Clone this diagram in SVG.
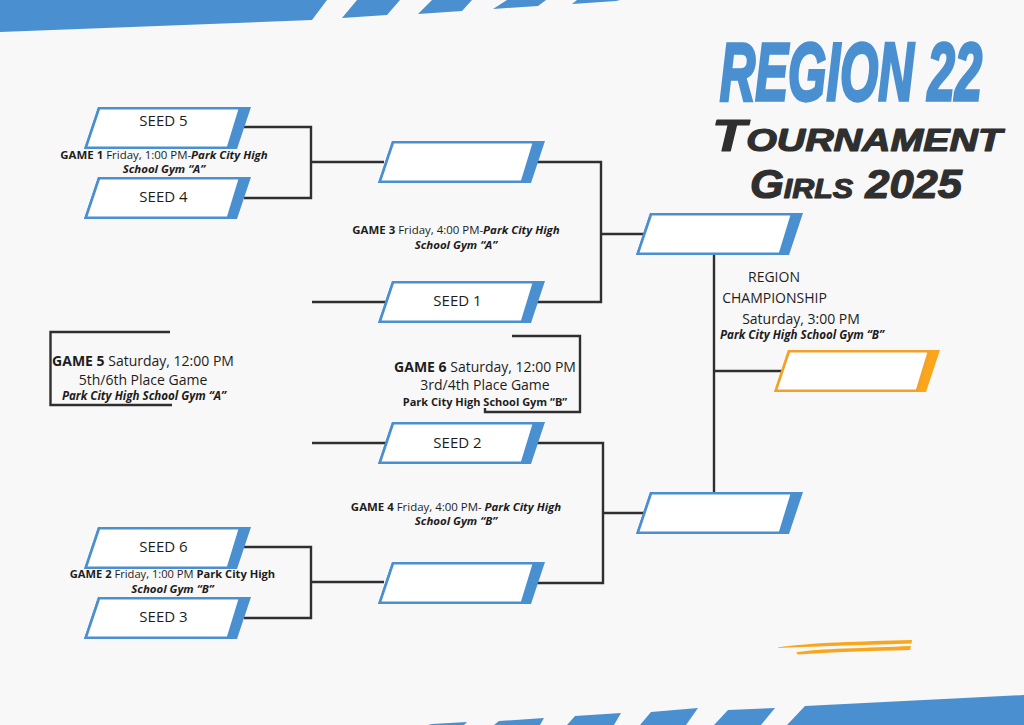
<svg xmlns="http://www.w3.org/2000/svg" xmlns:xlink="http://www.w3.org/1999/xlink" width="1024" height="725" viewBox="0 0 1024 725">
<style>
.b{fill:#4a90d0}
.o{fill:#f9a61d}
.w{fill:#fff;stroke-width:2.6}
.ws{stroke:#4a90d0}
.wo{stroke:#f2a22a}
.c{fill:none;stroke:#2f2f2f;stroke-width:2.4}
text{font-family:"Open Sans","Noto Sans","Liberation Sans",sans-serif;fill:#1d1d1d;text-anchor:middle}
.s{font-size:15px}
.g{font-size:11.450px}
.g .k{font-weight:700}
.g .p,.pl{font-weight:700;font-style:italic}
.l{font-size:14px}
.k{font-weight:700}
.pl{font-size:11.600px}
.h{font-family:"Liberation Sans",sans-serif;font-weight:700;font-style:italic;font-variant:small-caps;fill:#2f2f2f;stroke:#2f2f2f;stroke-width:1.2;stroke-linejoin:round}
</style>
<defs>
<g id="box"><polygon class="b" points="98,0 167,0 153,42 0,42 14,0"/><polygon class="w ws" points="15,1.3 156,1.3 144,40.7 1.8,40.7"/></g>
<g id="boxo"><polygon class="o" points="98,0 166,0 152,42 0,42 14,0"/><polygon class="w wo" points="15,1.3 155,1.3 143,40.7 1.8,40.7"/></g>
</defs>
<rect width="1024" height="725" fill="#f8f8f8"/>
<g id="decor">
<polygon class="b" points="0,0 327,0 312,20 0,32"/>
<polygon class="b" points="357,0 400,0 387,15 342,18"/>
<polygon class="b" points="432,0 472,0 462,11 418,14"/>
<polygon class="b" points="507,0 546,0 538,6 493,9"/>
<polygon class="b" points="577,0 620,0 616,1 572,4"/>
<polygon class="b" points="428,725 432,724 467,722 464,725"/>
<polygon class="b" points="494,725 499,721 544,718 540,725"/>
<polygon class="b" points="567,725 575,716 621,713 614,725"/>
<polygon class="b" points="640,725 651,712 698,708 686,725"/>
<polygon class="b" points="714,725 728,710 775,708 761,725"/>
<polygon class="b" points="787,725 805,706 1024,695 1024,725"/>
<path class="o" d="M778,647.500 C810,642.500 860,641.500 912,640 L911.500,643.500 C870,645 825,646 778,648 Z"/>
<path class="o" d="M796,652.500 C815,648.500 870,648 911,646 L910,650 C870,651 830,652 798,654.500 Z"/>
</g>
<g id="connectors">
<path class="c" d="M244,127H311V198H244M311,162H384"/>
<path class="c" d="M535,162H601V302H535M601,234H644"/>
<path class="c" d="M312,302H386"/>
<path class="c" d="M312,443H386"/>
<path class="c" d="M244,547H311V618H244M311,582H384"/>
<path class="c" d="M535,443H603V583H535M603,513H644"/>
<path class="c" d="M714,254V492M714,371H782"/>
<path class="c" d="M170,332H50.500V405H172"/>
<path class="c" d="M512,336H580V412H485V408"/>
</g>
<g id="seed5" transform="translate(84,107)"><use href="#box"/><text class="s" x="79.500" y="19">SEED 5</text></g>
<g id="seed4" transform="translate(84,177)"><use href="#box"/><text class="s" x="79.500" y="25">SEED 4</text></g>
<g id="seed6" transform="translate(84,527)"><use href="#box"/><text class="s" x="79.500" y="25">SEED 6</text></g>
<g id="seed3" transform="translate(84,597)"><use href="#box"/><text class="s" x="79.500" y="25">SEED 3</text></g>
<g id="w1" transform="translate(378,141)"><use href="#box"/></g>
<g id="seed1" transform="translate(378,281)"><use href="#box"/><text class="s" x="79.500" y="25">SEED 1</text></g>
<g id="seed2" transform="translate(378,422)"><use href="#box"/><text class="s" x="79.500" y="26">SEED 2</text></g>
<g id="w2" transform="translate(378,562)"><use href="#box"/></g>
<g id="semi1" transform="translate(636,213)"><use href="#box"/></g>
<g id="semi2" transform="translate(636,492)"><use href="#box"/></g>
<g id="final" transform="translate(774,350)"><use href="#boxo"/></g>
<g id="labels">
<text class="g" x="164" y="159"><tspan class="k">GAME 1</tspan> Friday, 1:00 PM-<tspan class="p">Park City High</tspan></text>
<text class="g" x="164" y="173"><tspan class="p">School Gym “A”</tspan></text>
<text class="g" x="456" y="234"><tspan class="k">GAME 3</tspan> Friday, 4:00 PM-<tspan class="p">Park City High</tspan></text>
<text class="g" x="456" y="249"><tspan class="p">School Gym “A”</tspan></text>
<text class="g" x="456" y="511"><tspan class="k">GAME 4</tspan> Friday, 4:00 PM- <tspan class="p">Park City High</tspan></text>
<text class="g" x="456" y="525"><tspan class="p">School Gym “B”</tspan></text>
<text class="g" style="font-size:11.150px" x="172.500" y="578"><tspan class="k">GAME 2</tspan> Friday, 1:00 PM <tspan class="k">Park City High</tspan></text>
<text class="g" x="172.500" y="593"><tspan class="p">School Gym “B”</tspan></text>
<text class="l" x="143" y="366"><tspan class="k">GAME 5</tspan> Saturday, 12:00 PM</text>
<text class="l" x="143" y="385">5th/6th Place Game</text>
<text class="pl" x="144" y="400">Park City High School Gym “A”</text>
<text class="l" x="485" y="372"><tspan class="k">GAME 6</tspan> Saturday, 12:00 PM</text>
<text class="l" x="485" y="390">3rd/4th Place Game</text>
<text class="k" style="font-size:11px" x="485" y="406">Park City High School Gym “B”</text>
<text class="l" x="774" y="282">REGION</text>
<text class="l" x="774.500" y="303">CHAMPIONSHIP</text>
<text class="l" x="801" y="324">Saturday, 3:00 PM</text>
<text class="pl" x="802" y="339">Park City High School Gym “B”</text>
</g>
<g id="title">
<text transform="translate(851,99.500) scale(0.820,1.360)" style="font-family:'Liberation Sans Narrow','Liberation Sans',sans-serif;font-size:60px;font-weight:700;font-style:italic;fill:#4a90d0;stroke:#4a90d0;stroke-width:2.400">REGION 22</text>
<text class="h" x="857" y="151" textLength="290" lengthAdjust="spacingAndGlyphs" style="font-size:44px">Tournament</text>
<text class="h" x="856" y="198" textLength="212" lengthAdjust="spacingAndGlyphs" style="font-size:40px">Girls 2025</text>
</g>
</svg>
